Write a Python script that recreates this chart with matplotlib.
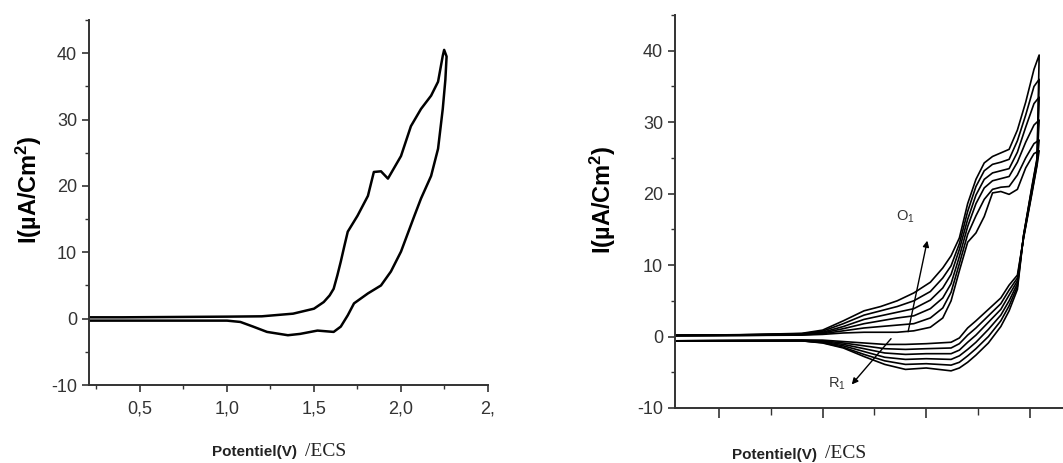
import matplotlib
matplotlib.use("Agg")
import matplotlib.pyplot as plt
from matplotlib.ticker import MultipleLocator, FixedLocator, NullFormatter

plt.rcParams['font.family'] = ['Liberation Sans', 'DejaVu Sans']
plt.rcParams['mathtext.fontset'] = 'custom'
plt.rcParams['mathtext.rm'] = 'Liberation Sans'
plt.rcParams['mathtext.bf'] = 'Liberation Sans:bold'
plt.rcParams['axes.unicode_minus'] = False

# ---- left voltammogram (single cycle) ----
left_fwd_x = [0.21, 0.4, 0.7, 1.0, 1.2, 1.38, 1.5, 1.556, 1.59, 1.613, 1.634, 1.654,
              1.675, 1.694, 1.75, 1.81, 1.844, 1.885, 1.925, 2.0, 2.057, 2.115, 2.173,
              2.213, 2.24, 2.248]
left_fwd_y = [0.2, 0.2, 0.25, 0.3, 0.35, 0.75, 1.5, 2.5, 3.5, 4.5, 6.5, 8.6,
              11.0, 13.1, 15.5, 18.5, 22.1, 22.2, 21.1, 24.5, 29.0, 31.6, 33.6,
              35.7, 39.6, 40.5]
left_rev_x = [2.248, 2.262, 2.255, 2.24, 2.213, 2.173, 2.115, 2.077, 2.0, 1.942, 1.885,
              1.81, 1.73, 1.694, 1.654, 1.613, 1.52, 1.42, 1.35, 1.23, 1.15, 1.077,
              1.0, 0.7, 0.4, 0.21]
left_rev_y = [40.5, 39.5, 36.0, 31.6, 25.6, 21.5, 18.1, 15.5, 10.1, 7.1, 5.0,
              3.8, 2.3, 0.5, -1.2, -2.0, -1.8, -2.3, -2.5, -2.0, -1.2, -0.5,
              -0.3, -0.3, -0.3, -0.3]
left_tick_pos = [0.5, 1.0, 1.5, 2.0, 2.5]
left_tick_labels = ["0,5", "1,0", "1,5", "2,0", "2,"]

# ---- right voltammograms (successive cycles, smallest first) ----
right_fwd_x = [0.29, 0.6, 0.9, 1.0, 1.1, 1.2, 1.28, 1.36, 1.44, 1.52, 1.58, 1.62,
               1.66, 1.70, 1.74, 1.78, 1.82, 1.86, 1.90, 1.94, 1.98, 2.02, 2.045]
fwd_c0 = [0.1, 0.15, 0.2, 0.3, 0.5, 0.6, 0.6, 0.6, 0.8, 1.3, 2.6, 5.0,
          9.2, 13.2, 14.5, 16.8, 20.1, 20.3, 19.9, 20.6, 23.6, 25.6, 26.0]
fwd_c1 = [0.1, 0.15, 0.25, 0.4, 0.8, 1.2, 1.4, 1.6, 1.8, 2.6, 4.0, 6.2,
          10.2, 14.3, 16.9, 19.2, 20.6, 20.9, 21.0, 22.6, 25.0, 27.0, 27.5]
fwd_c2 = [0.15, 0.2, 0.3, 0.5, 1.1, 1.8, 2.2, 2.6, 2.9, 3.9, 5.4, 7.4,
          11.2, 15.4, 18.6, 20.8, 21.8, 22.1, 22.4, 24.4, 27.2, 29.6, 30.3]
fwd_c3 = [0.15, 0.2, 0.35, 0.6, 1.4, 2.4, 2.9, 3.4, 3.9, 5.1, 6.8, 8.7,
          12.2, 16.4, 19.8, 22.0, 22.9, 23.2, 23.5, 25.8, 29.3, 32.6, 33.5]
fwd_c4 = [0.2, 0.25, 0.4, 0.75, 1.8, 3.0, 3.6, 4.2, 5.0, 6.3, 8.2, 9.9,
          13.0, 17.5, 21.0, 23.2, 24.1, 24.4, 24.8, 27.4, 31.0, 35.0, 36.0]
fwd_c5 = [0.2, 0.25, 0.45, 0.9, 2.2, 3.6, 4.2, 5.0, 6.1, 7.6, 9.6, 11.3,
          13.8, 18.6, 22.0, 24.3, 25.2, 25.7, 26.2, 28.9, 32.8, 37.4, 39.4]

right_rev_x = [2.045, 2.035, 2.01, 1.97, 1.94, 1.90, 1.86, 1.80, 1.74, 1.70, 1.66,
               1.62, 1.5, 1.4, 1.3, 1.2, 1.1, 1.0, 0.9, 0.6, 0.29]
rev_c0 = [26.0, 24.0, 20.0, 13.8, 8.6, 7.2, 5.4, 3.8, 2.2, 1.2, -0.2,
          -0.8, -1.0, -1.1, -1.1, -0.9, -0.7, -0.5, -0.5, -0.55, -0.6]
rev_c1 = [27.5, 24.2, 20.2, 13.9, 8.2, 6.5, 4.6, 2.9, 1.2, 0.2, -1.0,
          -1.6, -1.7, -1.8, -1.7, -1.3, -0.9, -0.6, -0.5, -0.55, -0.6]
rev_c2 = [30.3, 24.4, 20.4, 14.0, 7.8, 5.8, 3.8, 2.0, 0.2, -0.8, -1.9,
          -2.4, -2.4, -2.5, -2.3, -1.7, -1.1, -0.7, -0.55, -0.55, -0.6]
rev_c3 = [33.5, 24.6, 20.6, 14.1, 7.4, 5.0, 3.0, 1.0, -0.8, -1.8, -2.7,
          -3.2, -3.1, -3.2, -2.9, -2.1, -1.3, -0.8, -0.6, -0.6, -0.6]
rev_c4 = [36.0, 24.8, 20.8, 14.2, 7.0, 4.3, 2.2, 0.0, -1.7, -2.7, -3.6,
          -4.0, -3.8, -3.9, -3.4, -2.5, -1.5, -0.85, -0.6, -0.6, -0.6]
rev_c5 = [39.4, 25.0, 21.0, 14.2, 6.6, 3.6, 1.4, -0.9, -2.6, -3.6, -4.4,
          -4.8, -4.4, -4.6, -3.9, -2.8, -1.6, -0.9, -0.6, -0.6, -0.6]
fwd_cycles = [fwd_c0, fwd_c1, fwd_c2, fwd_c3, fwd_c4, fwd_c5]
rev_cycles = [rev_c0, rev_c1, rev_c2, rev_c3, rev_c4, rev_c5]

# arrow annotations (start -> end) and their labels
o1_start, o1_end, o1_text = (1.41, 0.3), (1.508, 13.8), (1.40, 16.8)
r1_start, r1_end, r1_text = (1.339, 0.0), (1.132, -7.0), (1.07, -6.6)

axis_col = "#333333"


def style_axes(ax):
    ax.spines['top'].set_visible(False)
    ax.spines['right'].set_visible(False)
    for s in ('left', 'bottom'):
        ax.spines[s].set_color(axis_col)
        ax.spines[s].set_linewidth(1.4)
    ax.set_ylim(-10, 45)
    ax.yaxis.set_major_locator(FixedLocator([-10, 0, 10, 20, 30, 40]))
    ax.yaxis.set_minor_locator(MultipleLocator(5))
    ax.tick_params(which='major', direction='out', length=5, width=1.2,
                   colors=axis_col, labelsize=13)
    ax.tick_params(which='minor', direction='out', length=3, width=1.0, colors=axis_col)


fig = plt.figure(figsize=(10.63, 4.63), dpi=100)

# left panel
ax1 = fig.add_axes([89 / 1063, 78 / 463, 399 / 1063, 365 / 463])
style_axes(ax1)
ax1.plot(left_fwd_x + left_rev_x, left_fwd_y + left_rev_y, color='k', lw=1.8)
ax1.set_xlim(0.207, 2.5)
ax1.set_xticks(left_tick_pos)
ax1.set_xticklabels(left_tick_labels)
ax1.xaxis.set_minor_locator(MultipleLocator(0.25))
ax1.tick_params(axis='x', which='major', pad=6)

# right panel
ax2 = fig.add_axes([675 / 1063, 55 / 463, 388 / 1063, 393 / 463])
style_axes(ax2)
for fy, ry in zip(fwd_cycles, rev_cycles):
    ax2.plot(right_fwd_x + right_rev_x, fy + ry, color='k', lw=1.2)
ax2.set_xlim(0.288, 2.16)
ax2.set_xticks([0.5, 1.0, 1.5, 2.0])
ax2.xaxis.set_major_formatter(NullFormatter())
ax2.xaxis.set_minor_locator(MultipleLocator(0.25))
ax2.tick_params(axis='x', which='major', length=7)
ax2.tick_params(axis='x', which='minor', length=5)

ax2.annotate('', xy=o1_end, xytext=o1_start,
             arrowprops=dict(arrowstyle='-|>', color='k', lw=1.0, mutation_scale=9))
ax2.annotate('', xy=r1_end, xytext=r1_start,
             arrowprops=dict(arrowstyle='-|>', color='k', lw=1.0, mutation_scale=9))
ax2.text(o1_text[0], o1_text[1], r"O$_1$", fontsize=10.5, color='#333333',
         ha='center', va='center')
ax2.text(r1_text[0], r1_text[1], r"R$_1$", fontsize=10.5, color='#333333',
         ha='center', va='center')

# axis titles
ylab = "I(µA/Cm$\\mathbf{^2}$)"
fig.text(29 / 1063, 1 - 190 / 463, ylab, rotation=90, fontsize=17,
         fontweight='bold', ha='center', va='center')
fig.text(603 / 1063, 1 - 200 / 463, ylab, rotation=90, fontsize=17,
         fontweight='bold', ha='center', va='center')

for x_left, y_mid in ((212, 452), (732, 455)):
    fig.text(x_left / 1063, 1 - y_mid / 463, "Potentiel(V)", fontsize=11,
             fontweight='bold', color='#222222', ha='left', va='center')
    fig.text((x_left + 93) / 1063, 1 - (y_mid - 1) / 463, "/ECS", fontsize=14,
             family='Liberation Serif', color='#222222', ha='left', va='center')

fig.savefig("out.png", dpi=100)
